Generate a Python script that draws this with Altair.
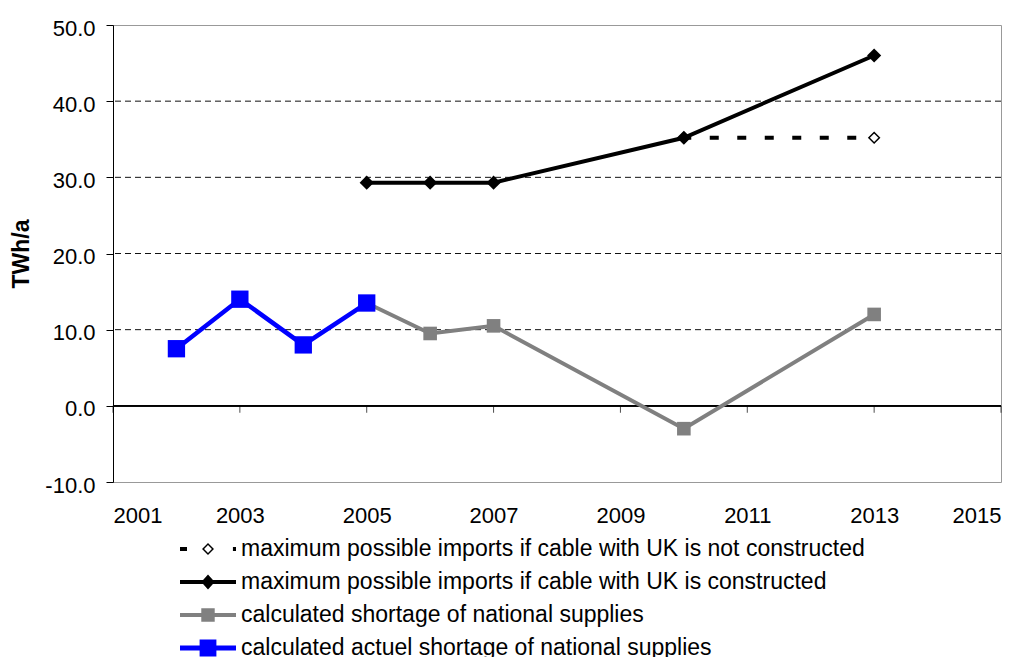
import altair as alt
import pandas as pd

# ---- data ----
tick_years = [2001, 2003, 2005, 2007, 2009, 2011, 2013, 2015]
y_ticks = [-10, 0, 10, 20, 30, 40, 50]
grid_vals = [10, 20, 30, 40]

years_nouk = [2010, 2013]
vals_nouk = [35.2, 35.2]

years_uk = [2005, 2006, 2007, 2010, 2013]
vals_uk = [29.3, 29.3, 29.3, 35.2, 46.0]

years_calc = [2005, 2006, 2007, 2010, 2013]
vals_calc = [13.5, 9.5, 10.5, -3.0, 12.0]

years_actual = [2002, 2003, 2004, 2005]
vals_actual = [7.5, 14.0, 8.0, 13.5]

series_names = [
    "maximum possible imports if cable with UK is not constructed",
    "maximum possible imports if cable with UK is constructed",
    "calculated shortage of national supplies",
    "calculated actuel shortage of national supplies",
]
series_colors = ["#000000", "#000000", "#808080", "#0000FF"]

# legend symbols (line sample + marker) as SVG paths in unit coordinates
legend_paths = [
    "M-1,-0.07H-0.75V0.07H-1Z M0,-0.214L0.214,0L0,0.214L-0.214,0Z M0,-0.14L-0.14,0L0,0.14L0.14,0Z M0.89,-0.07H1V0.07H0.89Z",
    "M-1,-0.075H1V0.075H-1Z M0,-0.27L0.24,0L0,0.27L-0.24,0Z",
    "M-1,-0.075H1V0.075H-1Z M-0.24,-0.24H0.24V0.24H-0.24Z",
    "M-1,-0.085H1V0.085H-1Z M-0.3,-0.3H0.3V0.3H-0.3Z",
]

FONT = "Liberation Sans"

df_nouk = pd.DataFrame({"year": years_nouk, "v": vals_nouk})
df_uk = pd.DataFrame({"year": years_uk, "v": vals_uk})
df_calc = pd.DataFrame({"year": years_calc, "v": vals_calc})
df_actual = pd.DataFrame({"year": years_actual, "v": vals_actual})
df_grid = pd.DataFrame({"g": grid_vals})
df_ticks = pd.DataFrame({"year": tick_years})
df_leg = pd.DataFrame({"series": series_names, "year": [2001] * 4, "v": [0.0] * 4})

x_scale = alt.Scale(domain=[2001, 2015], nice=False, zero=False)
y_scale = alt.Scale(domain=[-10, 50], nice=False, zero=False)

x_enc = alt.X(
    "year:Q",
    scale=x_scale,
    axis=alt.Axis(
        values=tick_years,
        format="d",
        title=None,
        grid=False,
        domain=False,
        ticks=False,
        tickSize=0,
        labelPadding=23.6,
        labelFont=FONT,
        labelFontSize=22,
        labelColor="#000000",
    ),
)
y_enc = alt.Y(
    "v:Q",
    scale=y_scale,
    axis=alt.Axis(
        values=y_ticks,
        labelExpr="(datum.value < 0 ? '-' : '') + format(abs(datum.value), '.1f')",
        grid=False,
        domainColor="#000000",
        tickColor="#000000",
        tickSize=7,
        labelPadding=11,
        labelOffset=3,
        labelFont=FONT,
        labelFontSize=22,
        labelColor="#000000",
        title="TWh/a",
        titleFont=FONT,
        titleFontSize=23,
        titleFontWeight="bold",
        titleColor="#000000",
        titleAngle=270,
        titleX=-85,
        titleY=228.5,
        titleAlign="center",
        titleBaseline="alphabetic",
    ),
)

grid = alt.Chart(df_grid).mark_rule(color="#111111", strokeWidth=1, strokeDash=[6, 4]).encode(
    y=alt.Y("g:Q", scale=y_scale)
)
zero_line = alt.Chart(df_ticks).mark_rule(color="#000000", strokeWidth=1).encode(y=alt.datum(0))
xticks = alt.Chart(df_ticks).mark_tick(
    orient="vertical", size=7, thickness=1, yOffset=3.5, color="#000000"
).encode(x=alt.X("year:Q", scale=x_scale), y=alt.datum(0))

line_nouk = alt.Chart(df_nouk).mark_line(
    color="#000000", strokeWidth=4, strokeDash=[9, 18.5], strokeDashOffset=1.6
).encode(x=x_enc, y=y_enc)
pts_nouk = alt.Chart(df_nouk).mark_point(
    shape="diamond", filled=True, fill="#FFFFFF", stroke="#000000", strokeWidth=1.5, size=110, opacity=1
).encode(x=x_enc, y=y_enc)

line_uk = alt.Chart(df_uk).mark_line(color="#000000", strokeWidth=4).encode(x=x_enc, y=y_enc)
pts_uk = alt.Chart(df_uk).mark_point(
    shape="diamond", filled=True, color="#000000", size=200, opacity=1
).encode(x=x_enc, y=y_enc)

line_calc = alt.Chart(df_calc).mark_line(color="#808080", strokeWidth=4).encode(x=x_enc, y=y_enc)
pts_calc = alt.Chart(df_calc).mark_point(
    shape="square", filled=True, color="#808080", size=185, opacity=1
).encode(x=x_enc, y=y_enc)

line_actual = alt.Chart(df_actual).mark_line(color="#0000FF", strokeWidth=4.5).encode(x=x_enc, y=y_enc)
pts_actual = alt.Chart(df_actual).mark_point(
    shape="square", filled=True, color="#0000FF", size=300, opacity=1
).encode(x=x_enc, y=y_enc)

leg = alt.Legend(
    orient="none",
    legendX=67,
    legendY=512.5,
    direction="vertical",
    title=None,
    symbolSize=3136,
    symbolStrokeWidth=0,
    symbolOpacity=1,
    symbolOffset=0,
    clipHeight=23,
    labelFont=FONT,
    labelFontSize=23,
    labelColor="#000000",
    labelLimit=0,
    labelOffset=5,
    rowPadding=9,
    padding=0,
)
legend_layer = alt.Chart(df_leg).mark_point(filled=True, size=3136, opacity=1).encode(
    x=alt.X("year:Q", scale=x_scale),
    y=alt.Y("v:Q", scale=y_scale),
    color=alt.Color("series:N", scale=alt.Scale(domain=series_names, range=series_colors), legend=leg),
    shape=alt.Shape("series:N", scale=alt.Scale(domain=series_names, range=legend_paths), legend=leg),
).transform_filter("false")

chart = alt.layer(
    grid, zero_line, xticks,
    line_nouk, pts_nouk,
    line_uk, pts_uk,
    line_calc, pts_calc,
    line_actual, pts_actual,
    legend_layer,
).properties(
    width=888,
    height=457,
    autosize=alt.AutoSizeParams(type="none"),
    padding={"left": 105, "top": 17, "right": 10, "bottom": 175},
    background="#FFFFFF",
).configure_view(
    stroke="#999999", strokeWidth=1
)

chart.save("out.html", embed_options={"renderer": "svg", "actions": False})
